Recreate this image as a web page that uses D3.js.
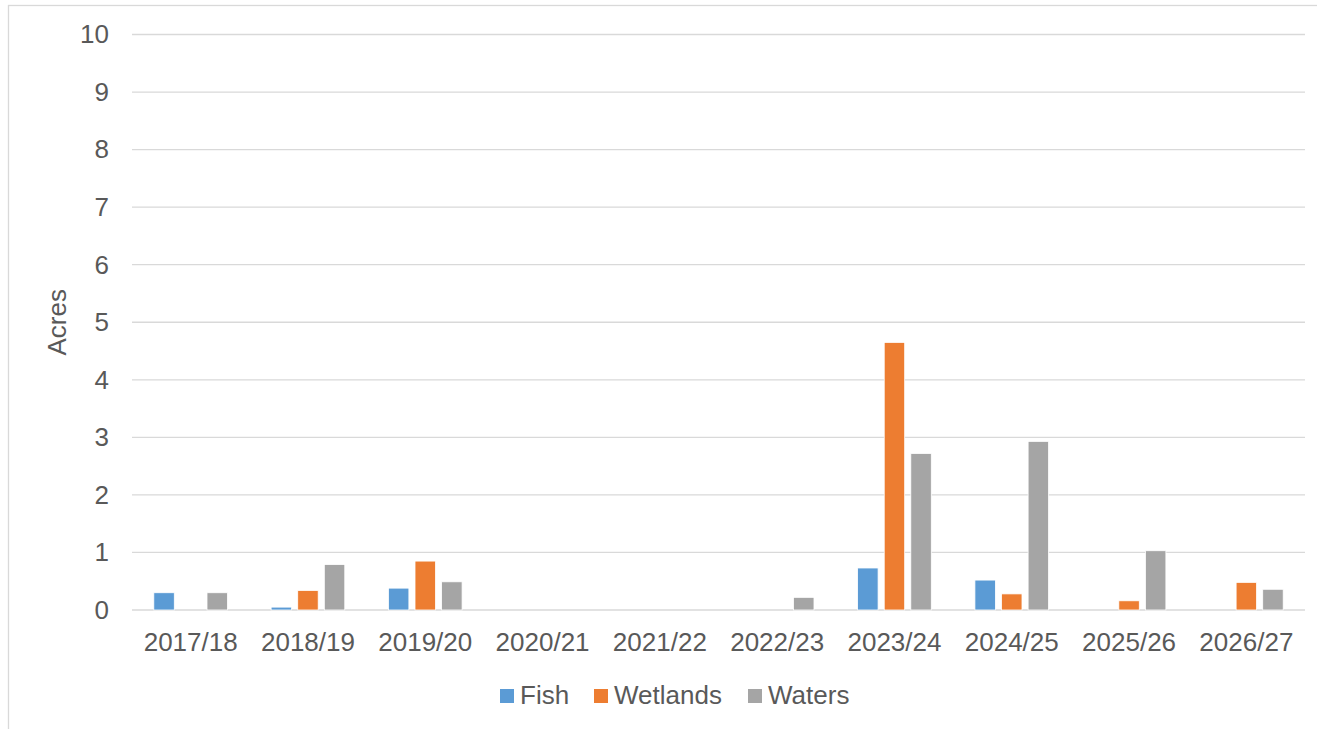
<!DOCTYPE html>
<html>
<head>
<meta charset="utf-8">
<script src="https://cdn.jsdelivr.net/npm/d3@7"></script>
<style>
  html, body { margin: 0; padding: 0; background: #fff; }
  svg { display: block; }
  text { font-family: "Liberation Sans", Arial, sans-serif; fill: #595959; }
</style>
</head>
<body>
<svg id="chart" width="1317" height="729"></svg>
<script>
const categories = ["2017/18","2018/19","2019/20","2020/21","2021/22","2022/23","2023/24","2024/25","2025/26","2026/27"];
const seriesNames = ["Fish","Wetlands","Waters"];
const fish     = [0.30, 0.05, 0.38, 0, 0, 0,    0.73, 0.52, 0,    0];
const wetlands = [0,    0.34, 0.85, 0, 0, 0,    4.65, 0.28, 0.16, 0.48];
const waters   = [0.30, 0.79, 0.49, 0, 0, 0.22, 2.72, 2.93, 1.03, 0.36];
const yTicks = [0,1,2,3,4,5,6,7,8,9,10];
const colors = ["#5b9bd5", "#ed7d31", "#a5a5a5"];

const seriesValues = [fish, wetlands, waters];
const svg = d3.select("#chart");
const FS = "26px";

// chart border
svg.append("rect").attr("x", 8.5).attr("y", 5.5).attr("width", 1400).attr("height", 800)
  .attr("fill", "none").attr("stroke", "#d9d9d9").attr("stroke-width", 1.3);

const pLeft = 132, pRight = 1305, pTop = 34.5, pBottom = 610;
const x0 = d3.scaleBand().domain(categories).range([pLeft, pRight]).padding(0);
const x1 = d3.scaleBand().domain(seriesNames).range([0, x0.bandwidth()])
  .paddingInner(0.23).paddingOuter(0.82);
const y = d3.scaleLinear().domain([0, 10]).range([pBottom, pTop]);

// gridlines
svg.append("g").selectAll("line").data(yTicks).join("line")
  .attr("x1", pLeft).attr("x2", pRight)
  .attr("y1", d => y(d)).attr("y2", d => y(d))
  .attr("stroke", "#d9d9d9").attr("stroke-width", 1.3);

// y axis labels
const yAxis = d3.axisLeft(y).tickValues(yTicks).tickSize(0).tickPadding(0);
const gy = svg.append("g").attr("transform", `translate(${109},0)`).call(yAxis);
gy.select(".domain").remove();
gy.selectAll("text").style("font-size", FS).attr("fill", "#595959")
  .style("font-family", "'Liberation Sans', Arial, sans-serif");

// bars
const groups = svg.append("g").selectAll("g").data(categories).join("g")
  .attr("transform", d => `translate(${x0(d)},0)`);
groups.selectAll("rect")
  .data((d, i) => seriesNames.map((s, j) => ({ s, j, v: seriesValues[j][i] })).filter(d => d.v > 0))
  .join("rect")
  .attr("x", d => x1(d.s))
  .attr("width", x1.bandwidth())
  .attr("y", d => y(d.v))
  .attr("height", d => y(0) - y(d.v))
  .attr("fill", d => colors[d.j])
  .attr("stroke", "#ffffff").attr("stroke-width", 0.8);

// x axis labels
const xAxis = d3.axisBottom(x0).tickSize(0).tickPadding(0);
const gx = svg.append("g").attr("transform", `translate(0,${pBottom})`).call(xAxis);
gx.select(".domain").remove();
gx.selectAll("text").attr("dy", null).attr("y", 41)
  .style("font-size", FS).attr("fill", "#595959")
  .style("font-family", "'Liberation Sans', Arial, sans-serif");

// y axis title
svg.append("text").attr("transform", `translate(66,${(pTop + pBottom) / 2}) rotate(-90)`)
  .attr("text-anchor", "middle").style("font-size", FS).text("Acres");

// legend
const legendX = [500, 594, 748];
const legend = svg.append("g").selectAll("g").data(seriesNames).join("g")
  .attr("transform", (d, i) => `translate(${legendX[i]},689)`);
legend.append("rect").attr("width", 14).attr("height", 14).attr("fill", (d, i) => colors[i]);
legend.append("text").attr("x", 20).attr("y", 15).style("font-size", FS).text(d => d);
</script>
</body>
</html>
